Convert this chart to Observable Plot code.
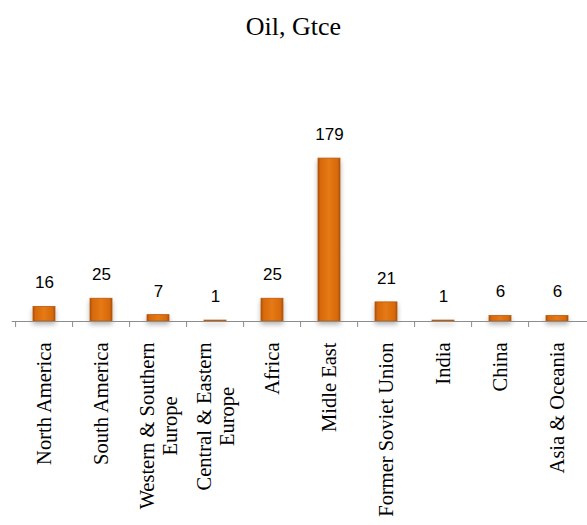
<!DOCTYPE html>
<html>
<head>
<meta charset="utf-8">
<script src="https://cdn.jsdelivr.net/npm/d3@7"></script>
<script src="https://cdn.jsdelivr.net/npm/@observablehq/plot@0.6"></script>
<style>
  html, body { margin: 0; padding: 0; background: #fff; }
  #title { width: 587px; height: 52px; line-height: 54px; text-align: center;
           font-family: "Liberation Serif", "Times New Roman", serif; font-size: 26px; color: #000; }
  #chart svg { display: block; }
</style>
</head>
<body>
<div id="title"></div>
<div id="chart"></div>
<script>
const title = "Oil, Gtce";
const categories = ["North America", "South America", "Western & Southern Europe", "Central & Eastern Europe",
  "Africa", "Midle East", "Former Soviet Union", "India", "China", "Asia & Oceania"];
const values = [16, 25, 7, 1, 25, 179, 21, 1, 6, 6];
const labelLine1 = ["North America", "South America", "Western & Southern", "Central & Eastern",
  "Africa", "Midle East", "Former Soviet Union", "India", "China", "Asia & Oceania"];
const labelLine2 = ["", "", "Europe", "Europe", "", "", "", "", "", ""];

document.getElementById("title").textContent = title;

const data = categories.map((c, i) => ({category: c, value: values[i], line1: labelLine1[i], line2: labelLine2[i]}));

const W = 587, H = 473;
const left = 11.7, right = 589.7;
const step = (right - left) / categories.length;
const labelFont = "Liberation Serif, Times New Roman, serif";
const labelSize = 20.5;
const labelOffset = 21;
const linePitch = 23;

// measure first-line widths so that a second line is centred in the label block
const ctx = document.createElement("canvas").getContext("2d");
ctx.font = `${labelSize}px "Liberation Serif"`;
const widthOf = s => ctx.measureText(s).width;

const single = data.filter(d => !d.line2);
const multi = data.filter(d => d.line2);

const labelMarks = [
  Plot.text(single, {x: "category", frameAnchor: "bottom", text: "line1", rotate: -90,
    textAnchor: "end", lineAnchor: "middle", dy: labelOffset,
    fontFamily: labelFont, fontSize: labelSize, fill: "#000"})
];
multi.forEach(d => {
  const w = Math.max(widthOf(d.line1), widthOf(d.line2));
  labelMarks.push(Plot.text([d], {x: "category", frameAnchor: "bottom", text: "line1", rotate: -90,
    textAnchor: "middle", lineAnchor: "middle", dy: labelOffset + w / 2, dx: -linePitch / 2,
    fontFamily: labelFont, fontSize: labelSize, fill: "#000"}));
  labelMarks.push(Plot.text([d], {x: "category", frameAnchor: "bottom", text: "line2", rotate: -90,
    textAnchor: "middle", lineAnchor: "middle", dy: labelOffset + w / 2, dx: linePitch / 2,
    fontFamily: labelFont, fontSize: labelSize, fill: "#000"}));
});

const plot = Plot.plot({
  width: W,
  height: H,
  marginTop: 87,
  marginBottom: 204,
  marginLeft: left,
  marginRight: W - right,
  x: {domain: categories, range: [left, right], paddingInner: 0.62, paddingOuter: 0.31, axis: null},
  y: {domain: [0, 200], axis: null},
  marks: [
    Plot.barY(data, {x: "category", y: "value", fill: "url(#barGrad)", stroke: "#B65A0C", strokeWidth: 0.8,
      filter: null}),
    Plot.ruleY([0], {stroke: "#8c8c8c", strokeWidth: 1}),
    Plot.axisX({tickSize: 6, tickFormat: () => "", label: null, dx: -step / 2, stroke: "#8c8c8c"}),
    Plot.text(data, {x: "category", y: "value", text: d => String(d.value), dy: -24,
      fontFamily: "Liberation Sans, Arial, sans-serif", fontSize: 17, fill: "#000"}),
    ...labelMarks
  ]
});

const svg = d3.select(plot);
const defs = svg.insert("defs", ":first-child");
const g = defs.append("linearGradient").attr("id", "barGrad").attr("x1", 0).attr("x2", 1).attr("y1", 0).attr("y2", 0);
[[0, "#A85008"], [0.12, "#D8690C"], [0.5, "#E57A14"], [0.88, "#D8690C"], [1, "#A85008"]]
  .forEach(([o, c]) => g.append("stop").attr("offset", o).attr("stop-color", c));
const f = defs.append("filter").attr("id", "barShadow").attr("x", "-50%").attr("y", "-50%").attr("width", "200%").attr("height", "200%");
f.append("feDropShadow").attr("dx", 0).attr("dy", 3).attr("stdDeviation", 2.5)
  .attr("flood-color", "#000").attr("flood-opacity", 0.3);
svg.select("g[aria-label='bar']").attr("filter", "url(#barShadow)");

document.getElementById("chart").appendChild(plot);
</script>
</body>
</html>
